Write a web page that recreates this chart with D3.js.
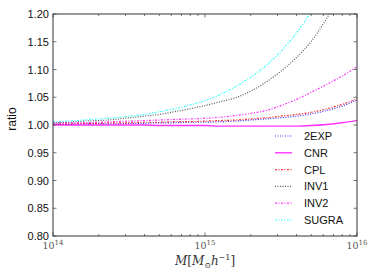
<!DOCTYPE html>
<html>
<head>
<meta charset="utf-8">
<script src="https://cdn.jsdelivr.net/npm/d3@7"></script>
<style>
  body { margin: 0; background: #fff; }
  svg { display: block; }
</style>
</head>
<body>
<svg id="chart" width="374" height="280"></svg>
<script>
// data: log10(M) grid and ratio for each model
const logM = [14.0, 14.1, 14.2, 14.3, 14.4, 14.5, 14.6, 14.7, 14.8, 14.9, 15.0,
              15.1, 15.2, 15.3, 15.4, 15.5, 15.6, 15.7, 15.8, 15.9, 16.0];

const exp2 = [1.001, 1.001, 1.002, 1.002, 1.002, 1.003, 1.003, 1.004, 1.004, 1.005, 1.005,
              1.006, 1.007, 1.009, 1.011, 1.013, 1.016, 1.020, 1.026, 1.034, 1.045];
const cnr = [1.000, 1.000, 1.000, 1.000, 1.000, 1.000, 1.000, 0.999, 0.999, 0.999, 0.999,
             0.998, 0.998, 0.998, 0.998, 0.998, 0.998, 0.999, 1.001, 1.004, 1.008];
const cpl = [1.002, 1.002, 1.003, 1.003, 1.004, 1.004, 1.005, 1.005, 1.006, 1.006, 1.007,
             1.008, 1.009, 1.011, 1.013, 1.016, 1.019, 1.023, 1.029, 1.037, 1.047];
const inv1 = [1.004, 1.005, 1.007, 1.008, 1.010, 1.013, 1.016, 1.019, 1.024, 1.029, 1.035,
              1.042, 1.049, 1.061, 1.077, 1.097, 1.121, 1.151, 1.192, 1.240, 1.300];
const inv2 = [1.003, 1.004, 1.004, 1.005, 1.006, 1.007, 1.008, 1.009, 1.010, 1.011, 1.012,
              1.014, 1.017, 1.021, 1.026, 1.035, 1.046, 1.059, 1.073, 1.088, 1.105];
const sugra = [1.006, 1.007, 1.009, 1.011, 1.013, 1.016, 1.019, 1.024, 1.029, 1.036, 1.044,
               1.055, 1.069, 1.086, 1.107, 1.133, 1.165, 1.205, 1.255, 1.315, 1.390];

const seriesNames = ['2EXP', 'CNR', 'CPL', 'INV1', 'INV2', 'SUGRA'];
const seriesValues = [exp2, cnr, cpl, inv1, inv2, sugra];
const seriesColors = ['#0000ff', '#ff00ff', '#ff0000', '#000000', '#ff00ff', '#00ffff'];
const seriesDash = ['1,1.5', null, '2,1.5,1,1.5', '1,1.5', '2,1.5,1,1.5', '2,1.5,1,1.5'];

const yTicks = [0.80, 0.85, 0.90, 0.95, 1.00, 1.05, 1.10, 1.15, 1.20];
const xMajor = [14, 15, 16];

// layout
const margin = { left: 53, right: 17, top: 14, bottom: 44 };
const W = 374, H = 280;
const iw = W - margin.left - margin.right;
const ih = H - margin.top - margin.bottom;

const svg = d3.select('#chart');

const x = d3.scaleLog().domain([1e14, 1e16]).range([margin.left, margin.left + iw]);
const y = d3.scaleLinear().domain([0.80, 1.20]).range([margin.top + ih, margin.top]);

svg.append('defs').append('clipPath').attr('id', 'clip')
  .append('rect')
  .attr('x', margin.left).attr('y', margin.top)
  .attr('width', iw).attr('height', ih);

// lines
const line = d3.line()
  .x((d, i) => x(Math.pow(10, logM[i])))
  .y(d => y(d))
  .curve(d3.curveMonotoneX);

const lines = svg.append('g').attr('clip-path', 'url(#clip)');
seriesValues.forEach((vals, k) => {
  lines.append('path')
    .datum(vals)
    .attr('d', line)
    .attr('fill', 'none')
    .attr('stroke', seriesColors[k])
    .attr('stroke-width', k === 1 ? 1.4 : 1.2)
    .attr('stroke-opacity', k === 3 ? 0.65 : 0.8)
    .attr('stroke-dasharray', seriesDash[k]);
});

// ticks (inward, all four sides)
const tickG = svg.append('g').attr('stroke', '#555').attr('stroke-width', 0.8);
const minorX = [];
for (let e = 14; e < 16; e++) {
  for (let m = 2; m <= 9; m++) minorX.push(m * Math.pow(10, e));
}
minorX.forEach(v => {
  tickG.append('line').attr('x1', x(v)).attr('x2', x(v))
    .attr('y1', margin.top + ih).attr('y2', margin.top + ih - 2);
  tickG.append('line').attr('x1', x(v)).attr('x2', x(v))
    .attr('y1', margin.top).attr('y2', margin.top + 2);
});
xMajor.forEach(e => {
  const v = Math.pow(10, e);
  tickG.append('line').attr('x1', x(v)).attr('x2', x(v))
    .attr('y1', margin.top + ih).attr('y2', margin.top + ih - 3.5);
  tickG.append('line').attr('x1', x(v)).attr('x2', x(v))
    .attr('y1', margin.top).attr('y2', margin.top + 3.5);
});
yTicks.forEach(t => {
  tickG.append('line').attr('x1', margin.left).attr('x2', margin.left + 3.5)
    .attr('y1', y(t)).attr('y2', y(t));
  tickG.append('line').attr('x1', margin.left + iw).attr('x2', margin.left + iw - 3.5)
    .attr('y1', y(t)).attr('y2', y(t));
});

// frame
svg.append('rect')
  .attr('x', margin.left).attr('y', margin.top)
  .attr('width', iw).attr('height', ih)
  .attr('fill', 'none').attr('stroke', '#333').attr('stroke-width', 1);

// y tick labels
svg.append('g').selectAll('text')
  .data(yTicks).enter().append('text')
  .attr('x', margin.left - 4)
  .attr('y', d => y(d) + 4)
  .attr('text-anchor', 'end')
  .attr('font-family', 'Liberation Sans, Arial, sans-serif')
  .attr('font-size', 11)
  .attr('fill', '#111')
  .text(d => d.toFixed(2));

// x tick labels 10^e
const xl = svg.append('g')
  .attr('font-family', 'DejaVu Serif, Liberation Serif, serif')
  .attr('fill', '#555');
xMajor.forEach(e => {
  const t = xl.append('text')
    .attr('x', x(Math.pow(10, e)))
    .attr('y', margin.top + ih + 13)
    .attr('text-anchor', 'middle')
    .attr('font-size', 9.5);
  t.append('tspan').text('10');
  t.append('tspan').attr('dy', -4).attr('font-size', 7).text(e);
});

// axis titles
svg.append('text')
  .attr('transform', `translate(16,${margin.top + ih / 2 - 6}) rotate(-90)`)
  .attr('text-anchor', 'middle')
  .attr('font-family', 'Liberation Sans, Arial, sans-serif')
  .attr('font-size', 12)
  .attr('fill', '#111')
  .text('ratio');

const xt = svg.append('text')
  .attr('x', margin.left + iw / 2)
  .attr('y', 265)
  .attr('text-anchor', 'middle')
  .attr('font-family', 'DejaVu Serif, Liberation Serif, serif')
  .attr('font-size', 12)
  .attr('fill', '#333');
xt.append('tspan').attr('font-style', 'italic').text('M');
xt.append('tspan').text('[');
xt.append('tspan').attr('font-style', 'italic').text('M');
xt.append('tspan').attr('dy', 3).attr('font-size', 8).text('⊙');
xt.append('tspan').attr('dy', -3).attr('font-style', 'italic').text('h');
xt.append('tspan').attr('dy', -5).attr('font-size', 8).text('−1');
xt.append('tspan').attr('dy', 5).text(']');

// legend
const legend = svg.append('g');
seriesNames.forEach((name, k) => {
  const ly = 136 + k * 16.8;
  legend.append('line')
    .attr('x1', 275).attr('x2', 292)
    .attr('y1', ly).attr('y2', ly)
    .attr('stroke', seriesColors[k])
    .attr('stroke-width', k === 1 ? 1.4 : 1.2)
    .attr('stroke-opacity', k === 3 ? 0.65 : 0.8)
    .attr('stroke-dasharray', seriesDash[k]);
  legend.append('text')
    .attr('x', 304).attr('y', ly + 4)
    .attr('font-family', 'Liberation Sans, Arial, sans-serif')
    .attr('font-size', 11)
    .attr('fill', '#111')
    .text(name);
});
</script>
</body>
</html>
